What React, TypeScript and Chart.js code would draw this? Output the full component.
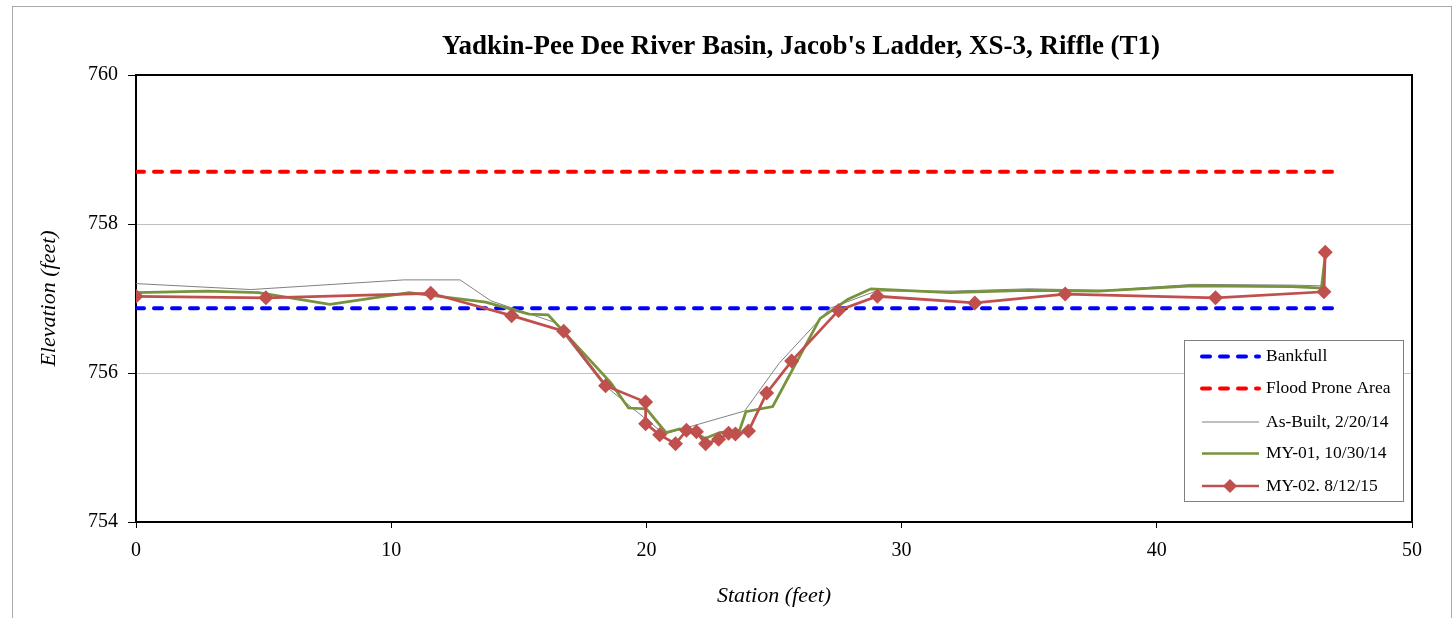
import React, { useEffect, useRef } from "react";
import { Chart, registerables } from "chart.js";

Chart.register(...registerables);

const TITLE = "Yadkin-Pee Dee River Basin, Jacob's Ladder, XS-3, Riffle (T1)";
const X_TITLE = "Station (feet)";
const Y_TITLE = "Elevation (feet)";

const bankfullX = [0, 47];
const bankfullY = [756.87, 756.87];

const floodX = [0, 47];
const floodY = [758.7, 758.7];

const asBuiltX = [0, 4.5, 10.5, 12.7, 13.9, 16.4, 18.3, 20.7, 23.85, 25.2, 27.2, 29.0, 32.0, 35.0, 38.0, 41.4, 45.3, 46.45];
const asBuiltY = [757.2, 757.12, 757.25, 757.25, 756.97, 756.68, 755.85, 755.18, 755.49, 756.13, 756.87, 757.1, 757.1, 757.13, 757.11, 757.19, 757.18, 757.17];

const my01X = [0, 2.8, 4.8, 7.6, 10.7, 13.7, 15.4, 16.15, 18.6, 19.3, 20.0, 20.77, 21.3, 22.05, 22.3, 22.87, 23.65, 23.9, 24.95, 26.8, 27.9, 28.8, 31.9, 34.9, 37.7, 41.4, 45.3, 46.45, 46.6];
const my01Y = [757.08, 757.1, 757.08, 756.92, 757.08, 756.95, 756.79, 756.78, 755.87, 755.53, 755.52, 755.2, 755.25, 755.17, 755.12, 755.2, 755.23, 755.48, 755.55, 756.73, 756.99, 757.13, 757.08, 757.11, 757.1, 757.17, 757.16, 757.14, 757.58];

const my02X = [0, 5.09, 11.55, 14.72, 16.76, 18.4, 19.97, 19.97, 20.52, 21.14, 21.57, 21.96, 22.32, 22.83, 23.22, 23.49, 24.0, 24.71, 25.69, 27.53, 29.05, 32.87, 36.41, 42.3, 46.55, 46.6];
const my02Y = [757.03, 757.01, 757.07, 756.77, 756.56, 755.83, 755.61, 755.32, 755.17, 755.05, 755.23, 755.21, 755.05, 755.11, 755.19, 755.18, 755.22, 755.73, 756.16, 756.84, 757.03, 756.94, 757.06, 757.01, 757.09, 757.62];

const xTicks = [0, 10, 20, 30, 40, 50];
const yTicks = [754, 756, 758, 760];

const legendLabels = ["Bankfull", "Flood Prone Area", "As-Built, 2/20/14", "MY-01, 10/30/14", "MY-02. 8/12/15"];

const SERIF = "'Liberation Serif', 'Times New Roman', serif";
const BLUE = "#0000FF";
const RED = "#FF0000";
const GRAY = "#808080";
const GREEN = "#77933C";
const MAROON = "#C0504D";

const zip = (xs: number[], ys: number[]) => xs.map((x, i) => ({ x, y: ys[i] }));

const decorPlugin = {
  id: "decor",
  beforeDatasetsDraw(chart: any) {
    const { ctx, chartArea: a } = chart;
    ctx.save();
    ctx.strokeStyle = "#000";
    ctx.lineWidth = 2;
    ctx.strokeRect(a.left, a.top, a.right - a.left, a.bottom - a.top);
    ctx.restore();
  },
  afterDraw(chart: any) {
    const { ctx } = chart;
    ctx.save();
    // title
    ctx.fillStyle = "#000";
    ctx.font = `bold 27px ${SERIF}`;
    ctx.textAlign = "center";
    ctx.textBaseline = "middle";
    ctx.fillText(TITLE, 801, 47);

    // legend
    const lx = 1184, ly = 340, lw = 219, lh = 161;
    ctx.fillStyle = "#fff";
    ctx.fillRect(lx, ly, lw, lh);
    ctx.strokeStyle = "#7f7f7f";
    ctx.lineWidth = 1;
    ctx.strokeRect(lx + 0.5, ly + 0.5, lw, lh);
    const rows = [356.5, 388.5, 422, 453.5, 486];
    const styles = [
      { color: BLUE, width: 4, dash: [8, 10], cap: "round" },
      { color: RED, width: 4, dash: [8, 10], cap: "round" },
      { color: GRAY, width: 1, dash: [], cap: "butt" },
      { color: GREEN, width: 2.5, dash: [], cap: "butt" },
      { color: MAROON, width: 2.5, dash: [], cap: "butt" },
    ];
    rows.forEach((y, i) => {
      const s = styles[i];
      ctx.save();
      ctx.strokeStyle = s.color;
      ctx.lineWidth = s.width;
      ctx.setLineDash(s.dash);
      ctx.lineCap = s.cap as CanvasLineCap;
      ctx.beginPath();
      ctx.moveTo(1202, y);
      ctx.lineTo(1259, y);
      ctx.stroke();
      ctx.restore();
      if (i === 4) {
        ctx.fillStyle = MAROON;
        ctx.beginPath();
        ctx.moveTo(1230, y - 7);
        ctx.lineTo(1237, y);
        ctx.lineTo(1230, y + 7);
        ctx.lineTo(1223, y);
        ctx.closePath();
        ctx.fill();
      }
      ctx.fillStyle = "#000";
      ctx.font = `17.5px ${SERIF}`;
      ctx.textAlign = "left";
      ctx.textBaseline = "middle";
      ctx.fillText(legendLabels[i], 1266, y);
    });
    ctx.restore();
  },
};

export default function App() {
  const ref = useRef<HTMLCanvasElement | null>(null);

  useEffect(() => {
    if (!ref.current) return;
    const chart = new Chart(ref.current, {
      type: "line",
      data: {
        datasets: [
          {
            label: legendLabels[4],
            data: zip(my02X, my02Y),
            borderColor: MAROON,
            backgroundColor: MAROON,
            borderWidth: 2.75,
            pointStyle: "rectRot",
            pointRadius: 7.5,
            pointBorderWidth: 0,
            pointBackgroundColor: MAROON,
            order: 0,
          },
          {
            label: legendLabels[3],
            data: zip(my01X, my01Y),
            borderColor: GREEN,
            borderWidth: 2.75,
            pointRadius: 0,
            order: 1,
          },
          {
            label: legendLabels[2],
            data: zip(asBuiltX, asBuiltY),
            borderColor: GRAY,
            borderWidth: 1,
            pointRadius: 0,
            order: 2,
          },
          {
            label: legendLabels[0],
            data: zip(bankfullX, bankfullY),
            borderColor: BLUE,
            borderWidth: 4,
            borderDash: [8, 10],
            borderCapStyle: "round",
            pointRadius: 0,
            order: 3,
          },
          {
            label: legendLabels[1],
            data: zip(floodX, floodY),
            borderColor: RED,
            borderWidth: 4,
            borderDash: [8, 10],
            borderCapStyle: "round",
            pointRadius: 0,
            order: 4,
          },
        ] as any,
      },
      options: {
        animation: false,
        responsive: false,
        maintainAspectRatio: false,
        devicePixelRatio: 1,
        layout: { padding: { top: 75, right: 44, left: 0, bottom: 0 } },
        plugins: {
          legend: { display: false },
          title: { display: false },
          tooltip: { enabled: false },
        },
        elements: { line: { tension: 0 } },
        scales: {
          x: {
            type: "linear",
            min: 0,
            max: 50,
            afterFit(scale: any) {
              scale.height = 96;
            },
            afterBuildTicks(scale: any) {
              scale.ticks = xTicks.map((v) => ({ value: v }));
            },
            grid: {
              drawOnChartArea: false,
              tickColor: "#000",
              tickLength: 6,
              tickWidth: 1,
            },
            border: { display: false },
            ticks: {
              color: "#000",
              font: { family: SERIF, size: 20 },
              padding: 11,
              maxRotation: 0,
            },
            title: {
              display: true,
              text: X_TITLE,
              color: "#000",
              font: { family: SERIF, size: 22, style: "italic" },
              padding: { top: 0, bottom: 9 },
            },
          },
          y: {
            type: "linear",
            min: 754,
            max: 760,
            afterFit(scale: any) {
              scale.width = 136;
            },
            afterBuildTicks(scale: any) {
              scale.ticks = yTicks.map((v) => ({ value: v }));
            },
            grid: {
              color: (c: any) =>
                c.tick && (c.tick.value === 756 || c.tick.value === 758) ? "#c0c0c0" : "rgba(0,0,0,0)",
              lineWidth: 1,
              tickColor: "#000",
              tickLength: 8,
            },
            border: { display: false },
            ticks: {
              color: "#000",
              font: { family: SERIF, size: 20 },
              padding: 10,
            },
            title: {
              display: true,
              text: Y_TITLE,
              color: "#000",
              font: { family: SERIF, size: 22, style: "italic" },
              padding: { top: 36, bottom: 0 },
            },
          },
        },
      } as any,
      plugins: [decorPlugin],
    });
    return () => chart.destroy();
  }, []);

  return (
    <div style={{ position: "fixed", left: 0, top: 0, width: 1456, height: 618, background: "#fff", overflow: "hidden" }}>
      <div
        style={{
          position: "absolute",
          left: 12,
          top: 6,
          width: 1440,
          height: 640,
          border: "1px solid #aaaaaa",
          boxSizing: "border-box",
        }}
      />
      <canvas ref={ref} width={1456} height={618} style={{ position: "absolute", left: 0, top: 0, width: 1456, height: 618 }} />
    </div>
  );
}
